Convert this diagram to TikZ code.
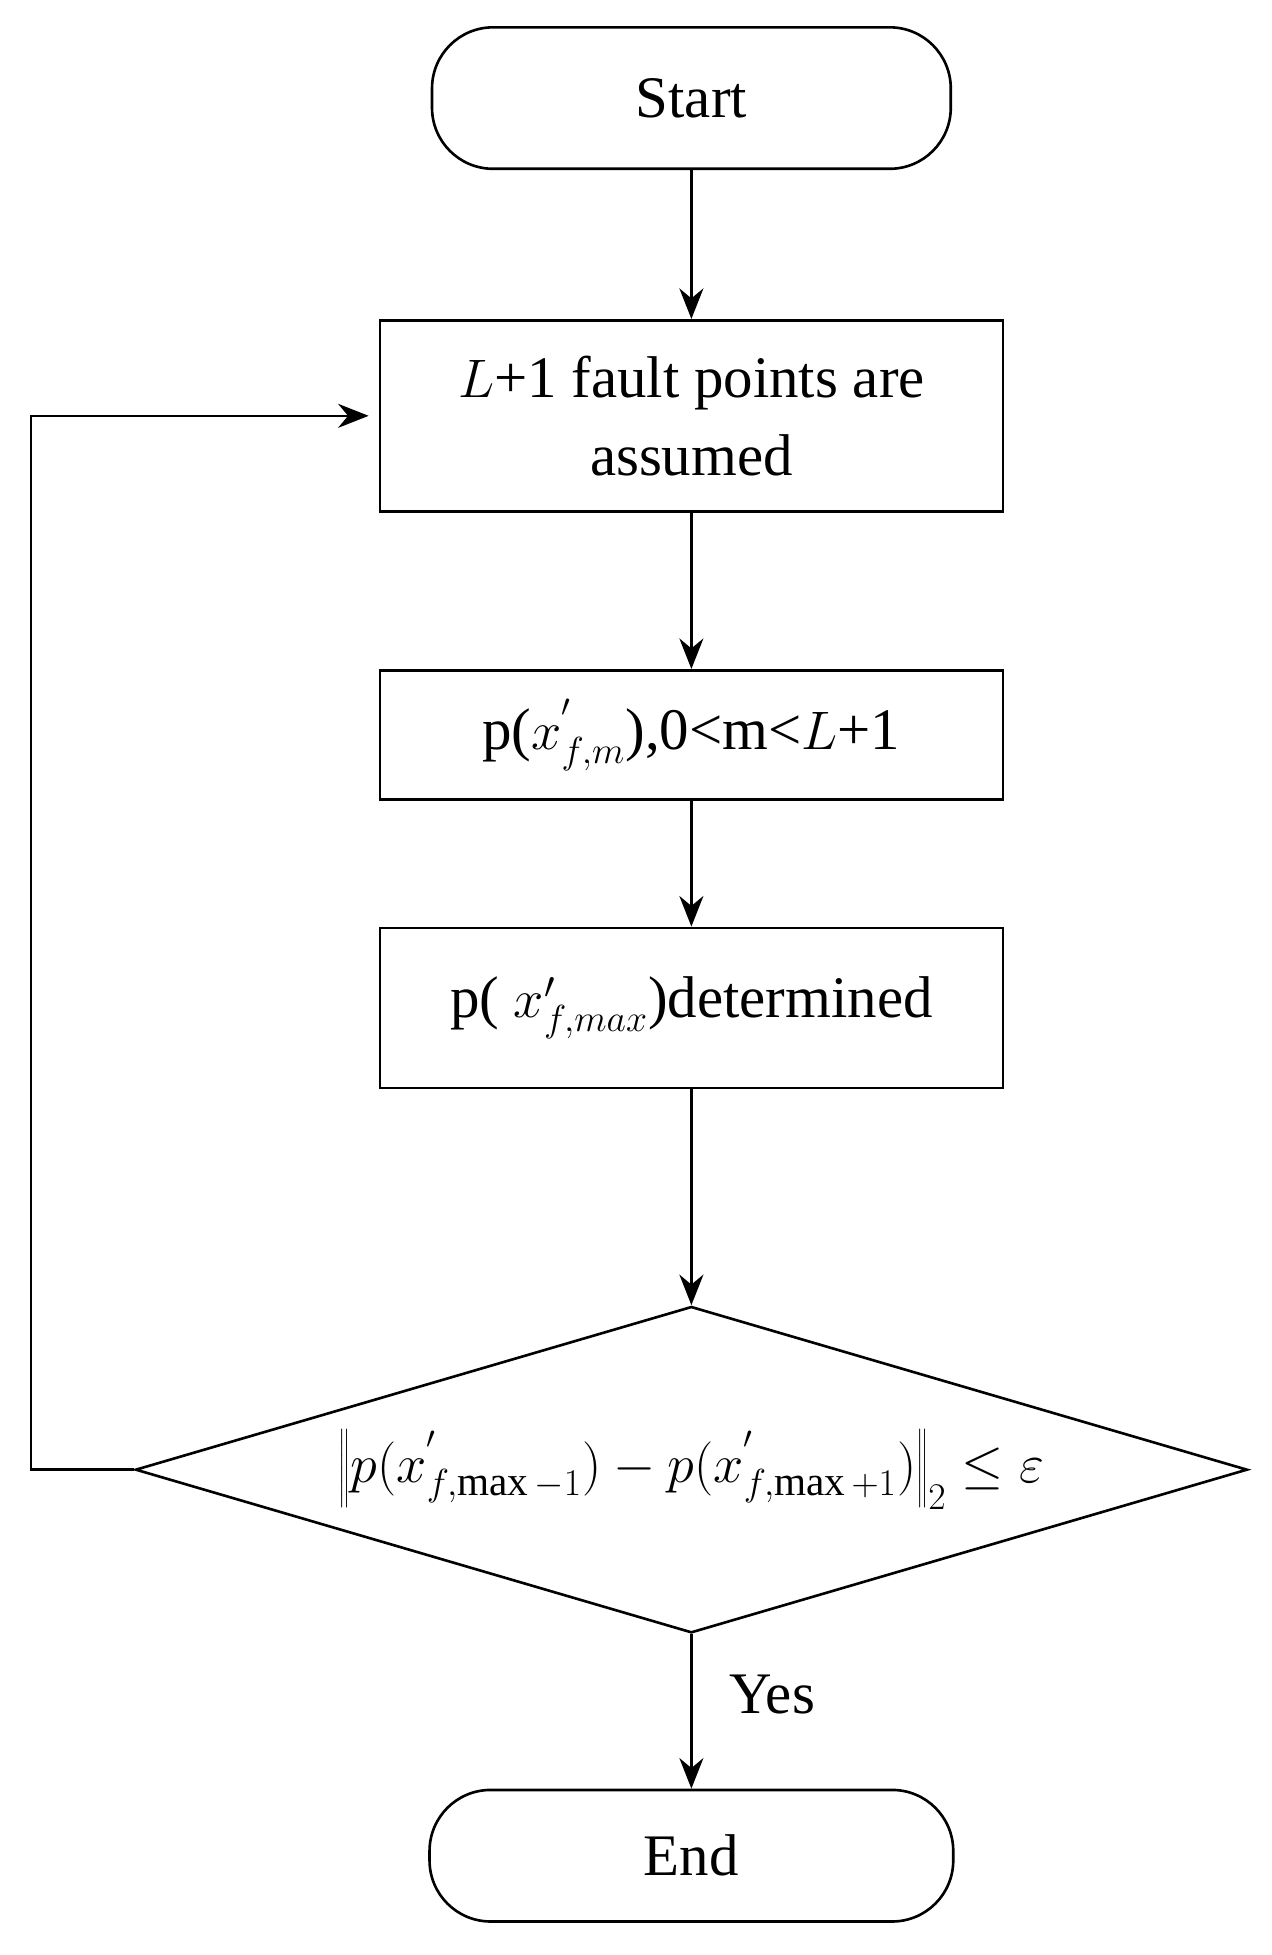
\documentclass[tikz,border=0pt]{standalone}
\usepackage{fontspec}
\setmainfont{Liberation Serif}
\usetikzlibrary{shapes.geometric,arrows.meta}
\begin{document}
\begin{tikzpicture}[x=0.02cm,y=-0.02cm,
  every node/.style={font=\fontsize{27}{36}\selectfont},
  term/.style={draw,line width=1.2pt,rounded corners=28pt,minimum width=8.36cm,minimum height=2.28cm},
  box/.style={draw,line width=1.2pt,minimum width=10.04cm,align=center},
  arr/.style={-{Stealth[length=14pt,width=11pt]},line width=1.2pt}]
\useasboundingbox (0,0) rectangle (1024,1575);
\node[term] (start) at (557,79) {Start};
\node[box,minimum height=3.08cm] (b1) at (557,335) {$L$+1 fault points are\\assumed};
\node[box,minimum height=2.08cm] (b2) at (557,592) {p($x^{'}_{f,m}$),0<m<$L$+1};
\node[box,minimum height=2.58cm] (b3) at (557,812) {p( $x'_{f,max}$)determined};
\node[draw,line width=1.2pt,diamond,aspect=3.4,minimum width=17.92cm,minimum height=5.26cm,inner sep=0pt] (d) at (557,1184) {};
\node at (557,1184) {$\left\| p(x^{'}_{f,\max-1})-p(x^{'}_{f,\max+1})\right\|_2\le\varepsilon$};
\node[term,minimum width=8.44cm,minimum height=2.12cm] (end) at (557,1495) {End};
\node (yes) at (622,1365) {Yes};
\coordinate (c1) at (25,1184);
\coordinate (c2) at (25,335);
\draw[arr] (start) -- (b1);
\draw[arr] (b1) -- (b2);
\draw[arr] (b2) -- (b3);
\draw[arr] (b3) -- (d.north);
\draw[arr] (d.south) -- (end);
\draw[arr] (d.west) -- (c1) -- (c2) -- ([xshift=-0.16cm]b1.west);
\end{tikzpicture}
\end{document}
